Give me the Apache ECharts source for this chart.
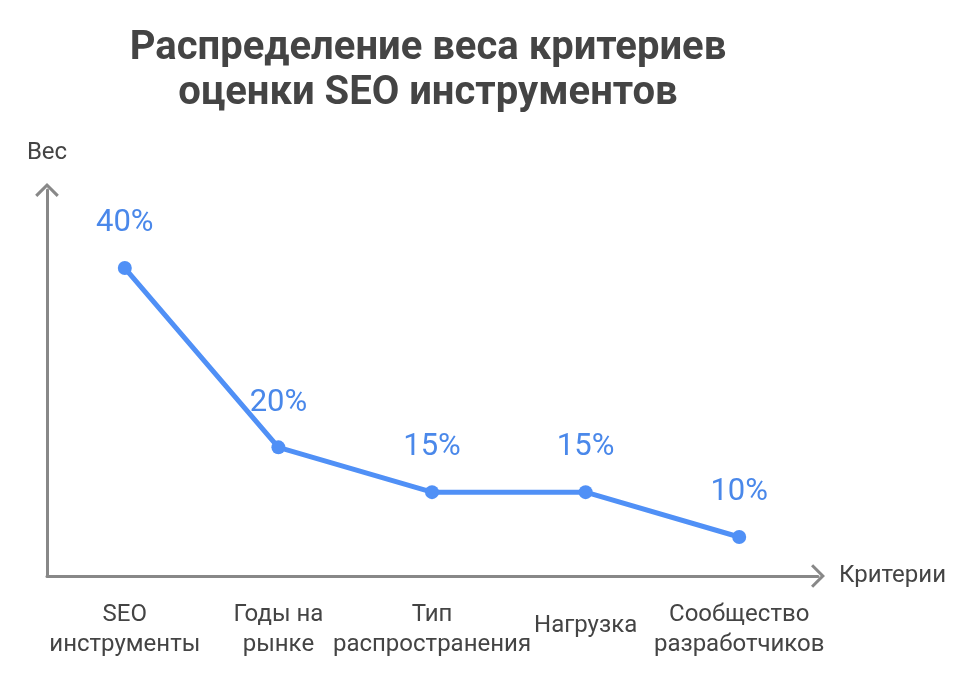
<!DOCTYPE html>
<html>
<head>
<meta charset="utf-8">
<script src="https://cdn.jsdelivr.net/npm/echarts@6/dist/echarts.min.js"></script>
<style>
html,body{margin:0;padding:0;background:#fff;}
#main{width:970px;height:679px;}
</style>
</head>
<body>
<div id="main"></div>
<script>
var categories = ['SEO\nинструменты', 'Годы на\nрынке', 'Тип\nраспространения', 'Нагрузка', 'Сообщество\nразработчиков'];
var weights = [40, 20, 15, 15, 10];

// открытая стрелка на концах осей
var chevron = 'path://M0,11 L11,0 L22,11 L20,13 L11,4 L2,13 Z';

var myChart = echarts.init(document.getElementById('main'));

var option = {
	backgroundColor: '#fff',
	textStyle: { fontFamily: 'Roboto' },
	title: {
		text: 'Распределение веса критериев\nоценки SEO инструментов',
		left: 423,
		top: 21,
		textAlign: 'center',
		textStyle: {
			fontFamily: 'Roboto',
			fontSize: 40,
			fontWeight: 'bold',
			color: '#444',
			lineHeight: 45
		}
	},
	grid: [
		{ left: 48, right: 154, top: 185, bottom: 103 },
		{ left: 47, right: 152, top: 190, bottom: 103 }
	],
	xAxis: [
		{
			type: 'category',
			gridIndex: 0,
			data: categories.map(function (c) {
				if (c.indexOf('\n') < 0) {
					return { value: c, textStyle: { padding: [11, 0, 0, 0] } };
				}
				return c;
			}),
			boundaryGap: true,
			axisLine: { show: false },
			axisTick: { show: false },
			axisLabel: {
				interval: 0,
				margin: 24,
				fontSize: 24,
				lineHeight: 30,
				color: '#444',
				fontFamily: 'Roboto'
			}
		},
		{
			type: 'value',
			gridIndex: 1,
			min: 0,
			max: 1,
			name: 'Критерии',
			nameLocation: 'end',
			nameGap: 21,
			nameTextStyle: { fontSize: 24, color: '#444', fontFamily: 'Roboto' },
			axisLine: {
				show: true,
				symbol: ['none', chevron],
				symbolSize: [24, 14],
				lineStyle: { color: '#888', width: 3 }
			},
			axisTick: { show: false },
			axisLabel: { show: false },
			splitLine: { show: false }
		}
	],
	yAxis: [
		{
			type: 'value',
			gridIndex: 0,
			min: 5.65,
			max: 49.26,
			show: false
		},
		{
			type: 'value',
			gridIndex: 1,
			min: 0,
			max: 1,
			name: 'Вес',
			nameLocation: 'end',
			nameGap: 25,
			nameTextStyle: { fontSize: 24, color: '#444', fontFamily: 'Roboto', align: 'center' },
			axisLine: {
				show: true,
				symbol: ['none', chevron],
				symbolSize: [24, 14],
				lineStyle: { color: '#888', width: 3 }
			},
			axisTick: { show: false },
			axisLabel: { show: false },
			splitLine: { show: false }
		}
	],
	series: [
		{
			type: 'line',
			xAxisIndex: 0,
			yAxisIndex: 0,
			data: weights,
			symbol: 'circle',
			symbolSize: 14,
			lineStyle: { color: '#5090f6', width: 5 },
			itemStyle: { color: '#5090f6' },
			label: {
				show: true,
				position: 'top',
				distance: 22,
				formatter: '{c}%',
				fontSize: 31,
				color: '#4a88ea',
				fontFamily: 'Roboto'
			},
			animation: false
		}
	]
};

myChart.setOption(option);
</script>
</body>
</html>
